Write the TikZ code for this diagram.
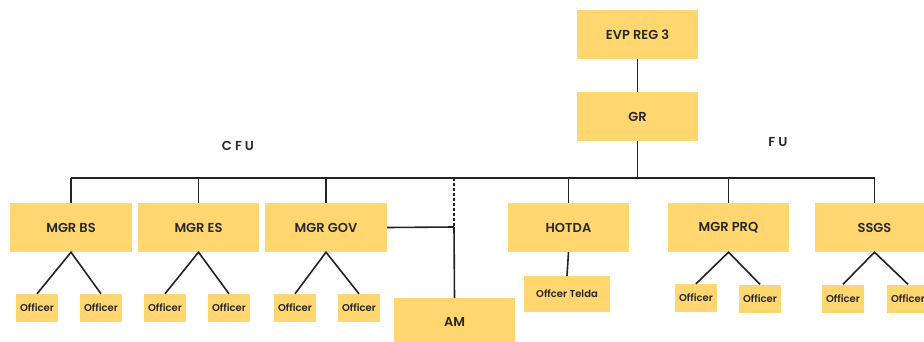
\documentclass[tikz,border=0pt]{standalone}
\usepackage{fontspec}
\setmainfont{Poppins}[UprightFont={* Medium},BoldFont={* SemiBold}]
\begin{document}
\begin{tikzpicture}[x=1pt,y=-1pt,
  box/.style={fill=boxfill,draw=none,inner sep=0pt,text=txtc,font=\bfseries\fontsize{13}{15}\selectfont},
  big/.style={box,minimum width=121pt,minimum height=49pt},
  off/.style={box,minimum width=42pt,minimum height=28pt,font=\bfseries\fontsize{10}{12}\selectfont},
  conn/.style={draw=linec,line width=1.6pt},
  lbl/.style={font=\bfseries\fontsize{13}{15}\selectfont,text=txtc}]
\definecolor{boxfill}{RGB}{255,214,112}
\definecolor{linec}{RGB}{35,35,35}
\definecolor{txtc}{RGB}{40,40,40}
\useasboundingbox (0,0) rectangle (924,341);
% top
\node[big] (evp) at (637.5,34.5) {EVP REG 3};
\node[big] (gr) at (637.5,116.5) {GR};
% managers
\node[big,minimum width=122pt] (mbs) at (71,227.5) {MGR BS};
\node[big] (mes) at (198.5,227.5) {MGR ES};
\node[big,minimum width=122pt] (mgov) at (326,227.5) {MGR GOV};
\node[big,minimum height=48pt] (am) at (454.5,322) {AM};
\node[big] (hotda) at (568.5,227.5) {HOTDA};
\node[big] (mprq) at (728.5,227.5) {MGR PRQ};
\node[big,minimum width=119pt] (ssgs) at (874.5,227.5) {SSGS};
% officers
\node[off] (o1) at (37,308) {Officer};
\node[off] (o2) at (101,308) {Officer};
\node[off] (o3) at (165,308) {Officer};
\node[off] (o4) at (229,308) {Officer};
\node[off] (o5) at (295,308) {Officer};
\node[off] (o6) at (359,308) {Officer};
\node[off,minimum width=86pt,minimum height=36pt] (telda) at (567,294) {Offcer Telda};
\node[off] (o7) at (696,298) {Officer};
\node[off] (o8) at (760,298.5) {Officer};
\node[off] (o9) at (843,298.5) {Officer};
\node[off] (o10) at (908,298.5) {Officer};
% labels
\node[lbl] (cfu) at (238,146) {C F U};
\node[lbl] (fu) at (778,142) {F U};
% bus
\coordinate (busL) at (71,178);
\coordinate (busR) at (874.5,178);
\coordinate (dtop) at (454,178);
\coordinate (djoin) at (454,227);
\draw[conn,line width=1.1pt] (evp.south) -- (gr.north);
\draw[conn] (gr.south) -- (gr.south |- busL);
\draw[conn] (busL) -- (busR);
\foreach \n in {mbs,mes,mgov,hotda,mprq,ssgs}{
  \draw[conn] (\n.north) -- (\n.north |- busL);
}
\draw[conn,line width=1.1pt,dash pattern=on 3pt off 2pt] (dtop) -- (djoin);
\draw[conn] (djoin) -- (am.north);
\draw[conn] (mgov.east) -- (djoin);
% officer links
\draw[conn] (o1.north) -- (mbs.south) -- (o2.north);
\draw[conn] (o3.north) -- (mes.south) -- (o4.north);
\draw[conn] (o5.north) -- (mgov.south) -- (o6.north);
\draw[conn] (hotda.south) -- (telda.north);
\draw[conn] (o7.north) -- (mprq.south) -- (o8.north);
\draw[conn] (o9.north) -- (ssgs.south) -- (o10.north);
\end{tikzpicture}
\end{document}
